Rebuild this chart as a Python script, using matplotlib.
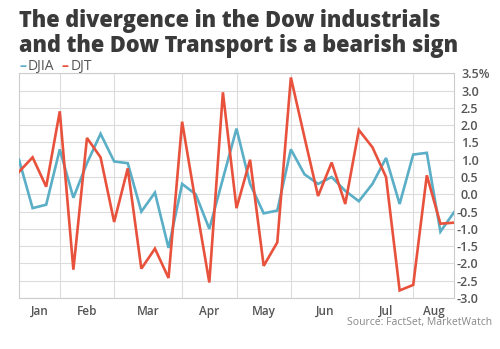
import matplotlib.pyplot as plt
import matplotlib.transforms as mtransforms
import numpy as np

# weekly % change, Jan - Aug
djia = [1.0, -0.4, -0.3, 1.3, -0.1, 0.9, 1.75, 0.95, 0.9, -0.5, 0.05,
        -1.55, 0.3, 0.0, -1.0, 0.45, 1.9, 0.3, -0.55, -0.47, 1.3, 0.58,
        0.3, 0.5, 0.1, -0.2, 0.3, 1.05, -0.28, 1.15, 1.2, -1.08, -0.52]
djt = [0.65, 1.07, 0.22, 2.4, -2.18, 1.63, 1.07, -0.8, 0.75, -2.15, -1.57,
       -2.42, 2.1, -0.25, -2.55, 2.95, -0.4, 1.0, -2.07, -1.39, 3.38, 1.65,
       -0.05, 0.92, -0.28, 1.86, 1.36, 0.5, -2.78, -2.62, 0.55, -0.85, -0.82]
months = ['Jan', 'Feb', 'Mar', 'Apr', 'May', 'Jun', 'Jul', 'Aug']
month_starts = [3, 7, 12, 16, 20, 25, 29]
yticks = [3.5, 3.0, 2.5, 2.0, 1.5, 1.0, 0.5, 0.0, -0.5, -1.0, -1.5, -2.0, -2.5, -3.0]

blue = '#5aaec6'
red = '#e8513c'
grid_c = '#dcdcdc'
text_c = '#555555'

plt.rcParams['font.family'] = ['Open Sans', 'DejaVu Sans']

fig = plt.figure(figsize=(5.0, 3.49), dpi=100)
ax = fig.add_axes([0.038, 0.146, 0.87, 0.644])

x = np.arange(len(djia))
ax.plot(x, djia, color=blue, lw=1.9, solid_joinstyle='miter', zorder=3)
ax.plot(x, djt, color=red, lw=1.9, solid_joinstyle='miter', zorder=4)

ax.set_xlim(0, len(djia) - 1)
ax.set_ylim(-3.0, 3.5)

ax.set_yticks(yticks)
ax.grid(axis='y', color=grid_c, lw=0.8)
for m in month_starts:
    ax.axvline(m, color=grid_c, lw=0.8, zorder=1)

ax.yaxis.tick_right()
labels = ['%.1f' % v for v in yticks]
labels[0] = '3.5%'
ax.set_yticklabels(labels, fontsize=9, color=text_c, fontweight='semibold')
ax.tick_params(axis='y', length=0, pad=5)
# left aligned, minus sign hangs out to the left
shift = mtransforms.ScaledTranslation(-4 / 100, 0, fig.dpi_scale_trans)
for v, lab in zip(yticks, ax.get_yticklabels()):
    lab.set_horizontalalignment('left')
    if v < 0:
        lab.set_transform(lab.get_transform() + shift)

# month labels centred between month boundaries
edges = [0] + month_starts + [len(djia) - 1]
mids = [(edges[i] + edges[i + 1]) / 2 for i in range(len(months))]
ax.set_xticks(mids)
ax.set_xticklabels(months, fontsize=8.5, color=text_c, fontweight='semibold')
ax.tick_params(axis='x', length=0, pad=5)

for s in ax.spines.values():
    s.set_color('#cccccc')
    s.set_linewidth(0.8)

fig.text(0.038, 0.923, 'The divergence in the Dow industrials',
         fontsize=15.7, fontweight='heavy', color='#3a3a3a', va='baseline')
fig.text(0.038, 0.851, 'and the Dow Transport is a bearish sign',
         fontsize=15.7, fontweight='heavy', color='#3a3a3a', va='baseline')

# legend
fig.text(0.038, 0.81, '\u2013', color=blue, fontsize=10, fontweight='bold', va='center')
fig.text(0.056, 0.81, 'DJIA', color=text_c, fontsize=10, va='center')
fig.text(0.124, 0.81, '\u2013', color=red, fontsize=10, fontweight='bold', va='center')
fig.text(0.142, 0.81, 'DJT', color=text_c, fontsize=10, va='center')

fig.text(0.985, 0.075, 'Source: FactSet, MarketWatch', fontsize=7.5,
         color='#888888', ha='right', va='center')

fig.savefig('out.png', dpi=100)
